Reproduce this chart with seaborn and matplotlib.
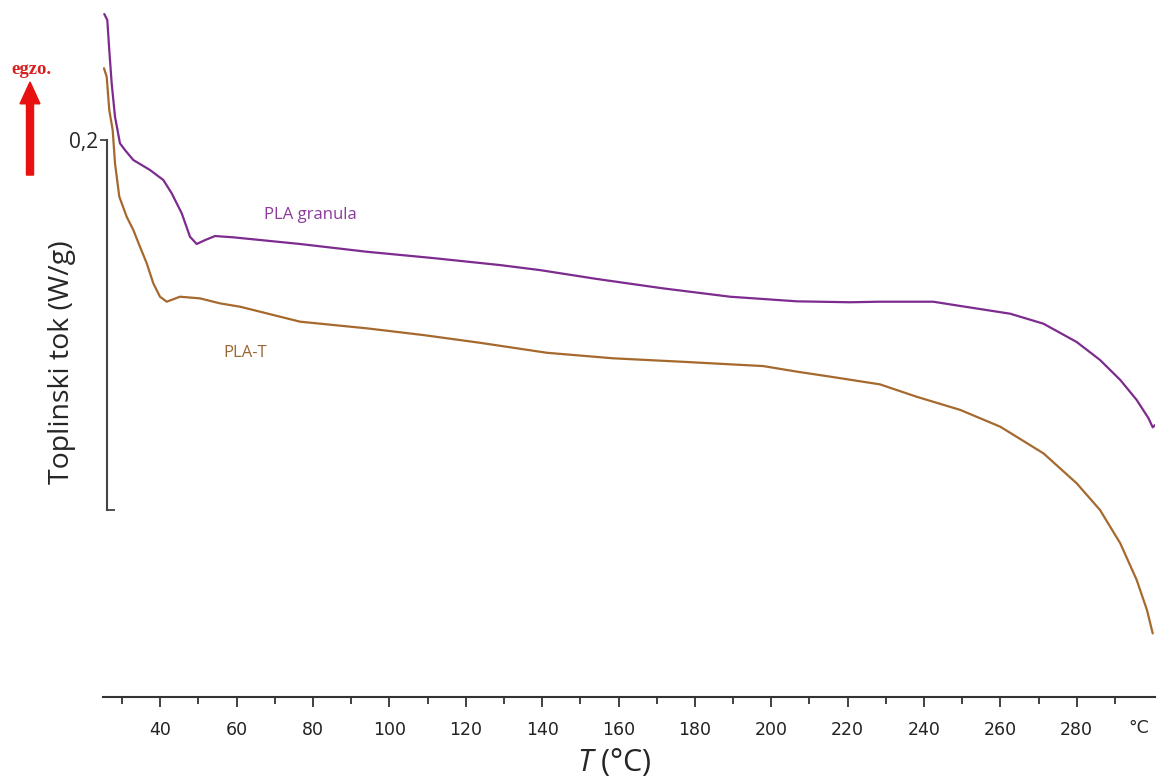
import numpy as np
import pandas as pd
import seaborn as sns
import matplotlib.pyplot as plt
from matplotlib.patches import FancyArrow

# DSC curves: temperature (deg C) and heat flow (W/g)
t_granula = [25.33, 26.12, 26.64, 27.27, 28.14, 29.44, 30.75, 32.93, 37.30, 40.79,
             42.99, 45.61, 47.78, 49.53, 51.71, 54.33, 59.12, 76.6, 94.1, 111.4,
             129.0, 139.4, 154.3, 171.7, 189.2, 206.7, 220.6, 228.5, 242.4, 249.5,
             262.6, 271.3, 280.0, 286.1, 291.4, 295.7, 298.8, 299.9, 300.5]
q_granula = [0.2681, 0.2649, 0.2486, 0.2306, 0.2126, 0.1982, 0.1946, 0.1892, 0.1838,
             0.1784, 0.1712, 0.1604, 0.1477, 0.1438, 0.1459, 0.1481, 0.1474, 0.1438,
             0.1396, 0.1362, 0.1324, 0.1297, 0.1249, 0.1198, 0.1153, 0.1128, 0.1123,
             0.1126, 0.1126, 0.1103, 0.1061, 0.1007, 0.0908, 0.0811, 0.0703, 0.0595,
             0.0496, 0.0447, 0.0459]

t_plat = [25.25, 25.96, 26.64, 27.53, 28.14, 29.26, 31.20, 32.93, 34.68, 36.44, 38.17,
          39.92, 41.68, 45.16, 50.40, 55.64, 60.88, 76.6, 94.1, 108.8, 123.7, 141.2,
          158.6, 176.1, 197.9, 206.7, 215.4, 228.5, 238.1, 249.5, 260.0, 271.3, 280.0,
          286.1, 291.4, 295.7, 298.4, 299.9]
q_plat = [0.2388, 0.2342, 0.2162, 0.2054, 0.1874, 0.1694, 0.1585, 0.1514, 0.1423, 0.1334,
          0.1225, 0.1153, 0.1126, 0.1153, 0.1144, 0.1117, 0.1099, 0.1018, 0.0982, 0.0946,
          0.0904, 0.0850, 0.0820, 0.0802, 0.0778, 0.0748, 0.0721, 0.0679, 0.0612, 0.0541,
          0.0450, 0.0306, 0.0144, 0.0000, -0.0180, -0.0378, -0.0541, -0.0667]

series_names = ['PLA granula', 'PLA-T']
x_ticks = [40, 60, 80, 100, 120, 140, 160, 180, 200, 220, 240, 260, 280]

df = pd.concat([
    pd.DataFrame({'T': t_granula, 'q': q_granula, 'uzorak': series_names[0]}),
    pd.DataFrame({'T': t_plat, 'q': q_plat, 'uzorak': series_names[1]}),
])

sns.set_style('white')
plt.rcParams['font.family'] = ['DejaVu Sans']
plt.rcParams['mathtext.fontset'] = 'custom'
plt.rcParams['mathtext.it'] = 'Open Sans:italic'
plt.rcParams['mathtext.rm'] = 'Open Sans'

fig = plt.figure(figsize=(11.72, 7.78), dpi=100)
ax = fig.add_axes([0.0879, 0.1041, 0.8976, 0.8959])

colors = {'PLA granula': '#7d2b8f', 'PLA-T': '#a5692e'}
sns.lineplot(data=df, x='T', y='q', hue='uzorak', palette=colors, sort=False,
             linewidth=1.6, legend=False, ax=ax)

ax.set_xlim(25, 300.5)
ax.set_ylim(-0.1011, 0.2757)

# axes like a DSC software printout
ax.spines['top'].set_visible(False)
ax.spines['right'].set_visible(False)
ax.spines['bottom'].set_color('#333333')
ax.spines['bottom'].set_linewidth(1.5)
ax.spines['left'].set_position(('data', 26.0))
ax.spines['left'].set_bounds(0, 0.2)
ax.spines['left'].set_color('#444444')
ax.spines['left'].set_linewidth(1.5)

ax.set_xticks(x_ticks)
ax.set_xticks(np.arange(30, 300, 10), minor=True)
ax.tick_params(axis='x', which='both', bottom=True, direction='out', length=7,
               width=1.3, color='#333333', labelsize=12.5, labelcolor='#222222', pad=10)
ax.tick_params(axis='x', which='minor', length=5)

ax.set_yticks([0.2])
ax.set_yticklabels(['0,2'], family=['Open Sans'])
ax.set_yticks([0.0], minor=True)
ax.tick_params(axis='y', which='both', left=True, width=1.3, color='#444444')
ax.tick_params(axis='y', which='major', direction='out', length=5, labelsize=15, pad=1)
ax.tick_params(axis='y', which='minor', direction='in', length=6)

ax.set_xlabel('')
ax.set_ylabel('')
fig.text(0.524, 0.0, r'$T$ (°C)', fontsize=22, ha='center', va='bottom',
         family=['Open Sans'])
fig.text(0.053, 0.535, 'Toplinski tok (W/g)', fontsize=20.5, rotation=90,
         ha='center', va='center', family=['Open Sans'])
ax.text(0.985, -0.045, '°C', transform=ax.transAxes, fontsize=12.5,
        ha='center', va='center')

ax.text(79.2, 0.1595, 'PLA granula', color='#8b3a9b', fontsize=12,
        ha='center', va='center', family=['Open Sans'])
ax.text(62.2, 0.0849, 'PLA-T', color='#9a6634', fontsize=12,
        ha='center', va='center', family=['Open Sans'])

# exo arrow
fig.text(0.0265, 0.911, 'egzo.', color='#d61f1f', fontsize=13.5, fontweight='bold',
         family=['Liberation Serif'], ha='center', va='center')
fig.patches.append(FancyArrow(
    0.0256, 0.775, 0, 0.1196, width=0.006, head_width=0.017, head_length=0.028,
    length_includes_head=True, color='#e81010', transform=fig.transFigure, figure=fig))

fig.savefig('out.png', dpi=100)
